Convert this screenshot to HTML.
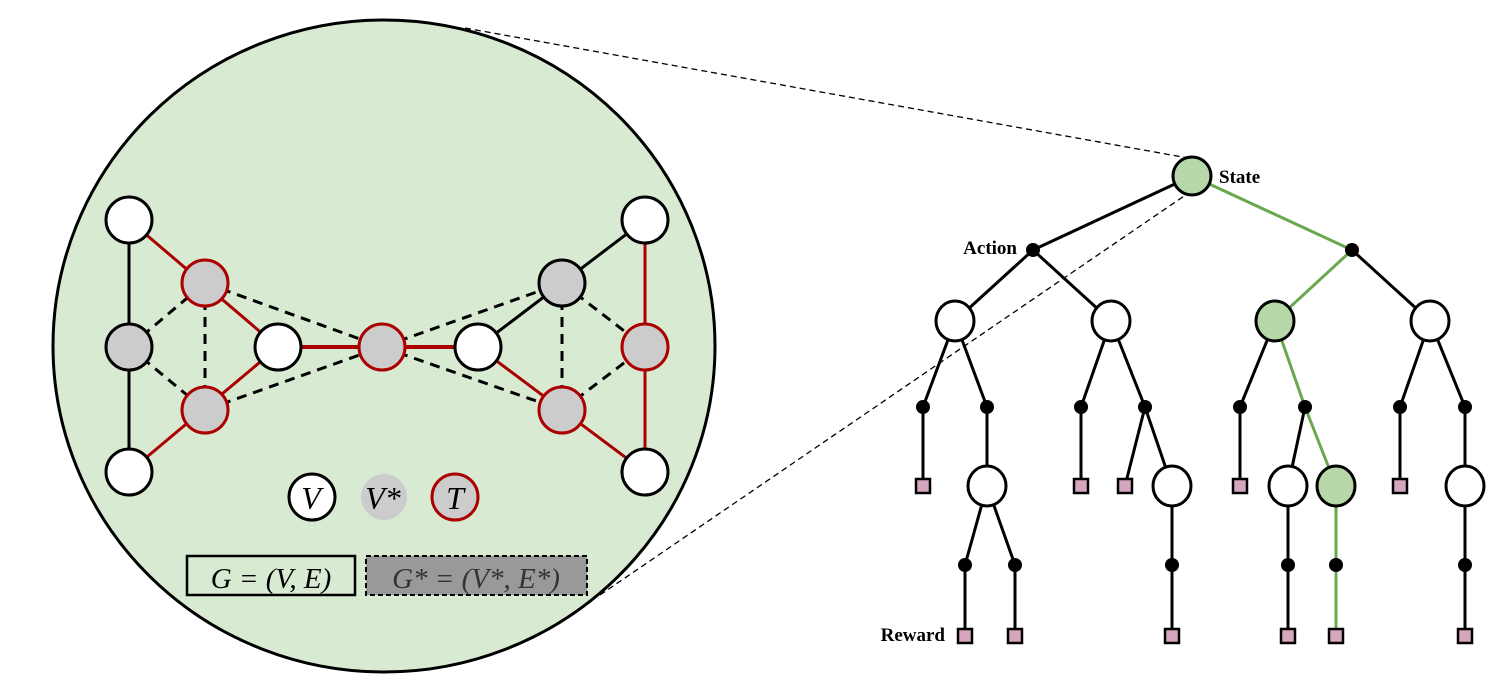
<!DOCTYPE html>
<html><head><style>body{margin:0;background:#fff}svg{display:block}</style></head><body>
<svg width="1505" height="676" viewBox="0 0 1505 676" xmlns="http://www.w3.org/2000/svg" font-family="Liberation Serif, serif">
<ellipse cx="384" cy="346" rx="331" ry="326" fill="#d9ead3" stroke="#000" stroke-width="3"/>
<g stroke="#000" stroke-width="1.3" stroke-dasharray="6,4" fill="none">
<line x1="465" y1="28" x2="1188" y2="158"/>
<line x1="600" y1="595" x2="1190" y2="192"/>
</g>
<g stroke-width="3" fill="none">
<line x1="129" y1="220" x2="129" y2="472" stroke="#000"/>
<line x1="129" y1="220" x2="278" y2="347" stroke="#a00"/>
<line x1="129" y1="472" x2="278" y2="347" stroke="#a00"/>
<line x1="278" y1="347" x2="478" y2="347" stroke="#a00" stroke-width="4"/>
<line x1="478" y1="347" x2="645" y2="220" stroke="#000"/>
<line x1="478" y1="347" x2="645" y2="472" stroke="#a00"/>
<line x1="645" y1="220" x2="645" y2="472" stroke="#a00"/>
</g>
<g stroke="#000" stroke-width="3" stroke-dasharray="10,7" fill="none">
<line x1="129" y1="347" x2="205" y2="283"/><line x1="129" y1="347" x2="205" y2="410"/>
<line x1="205" y1="283" x2="205" y2="410"/>
<line x1="205" y1="283" x2="382" y2="347"/><line x1="205" y1="410" x2="382" y2="347"/>
<line x1="382" y1="347" x2="562" y2="283"/><line x1="382" y1="347" x2="562" y2="410"/>
<line x1="562" y1="283" x2="562" y2="410"/>
<line x1="562" y1="283" x2="645" y2="347"/><line x1="562" y1="410" x2="645" y2="347"/>
</g>
<g stroke-width="3">
<ellipse cx="129" cy="220" rx="23" ry="23" fill="#fff" stroke="#000"/>
<ellipse cx="129" cy="472" rx="23" ry="23" fill="#fff" stroke="#000"/>
<ellipse cx="129" cy="347" rx="23" ry="23" fill="#ccc" stroke="#000"/>
<ellipse cx="205" cy="283" rx="23" ry="23" fill="#ccc" stroke="#a00"/>
<ellipse cx="205" cy="410" rx="23" ry="23" fill="#ccc" stroke="#a00"/>
<ellipse cx="278" cy="347" rx="23" ry="23" fill="#fff" stroke="#000"/>
<ellipse cx="382" cy="347" rx="23" ry="23" fill="#ccc" stroke="#a00"/>
<ellipse cx="478" cy="347" rx="23" ry="23" fill="#fff" stroke="#000"/>
<ellipse cx="562" cy="283" rx="23" ry="23" fill="#ccc" stroke="#000"/>
<ellipse cx="562" cy="410" rx="23" ry="23" fill="#ccc" stroke="#a00"/>
<ellipse cx="645" cy="220" rx="23" ry="23" fill="#fff" stroke="#000"/>
<ellipse cx="645" cy="347" rx="23" ry="23" fill="#ccc" stroke="#a00"/>
<ellipse cx="645" cy="472" rx="23" ry="23" fill="#fff" stroke="#000"/>
<ellipse cx="312" cy="497" rx="23" ry="23" fill="#fff" stroke="#000"/>
<ellipse cx="384" cy="497" rx="23" ry="23" fill="#ccc" stroke="none"/>
<ellipse cx="455" cy="497" rx="23" ry="23" fill="#ccc" stroke="#a00"/>
</g>
<g font-style="italic" font-size="32" text-anchor="middle">
<text x="311" y="509">V</text><text x="383" y="509">V*</text><text x="455" y="509">T</text>
</g>
<rect x="187" y="556" width="168" height="39" fill="none" stroke="#000" stroke-width="2.5"/>
<rect x="366" y="556" width="221" height="39" fill="#999" stroke="#000" stroke-width="2" stroke-dasharray="5,3"/>
<text x="271" y="588" font-size="29" text-anchor="middle" font-style="italic">G = (V, E)</text>
<text x="476" y="588" font-size="29" text-anchor="middle" font-style="italic" fill="#333">G* = (V*, E*)</text>
<g stroke="#000" stroke-width="3" fill="none">
<line x1="1192" y1="176" x2="1033" y2="250"/>
<line x1="1033" y1="250" x2="955" y2="321"/><line x1="1033" y1="250" x2="1111" y2="321"/>
<line x1="1352" y1="250" x2="1430" y2="321"/>
<line x1="955" y1="321" x2="923" y2="407"/><line x1="955" y1="321" x2="987" y2="407"/>
<line x1="1111" y1="321" x2="1081" y2="407"/><line x1="1111" y1="321" x2="1145" y2="407"/>
<line x1="1275" y1="321" x2="1240" y2="407"/>
<line x1="1430" y1="321" x2="1400" y2="407"/><line x1="1430" y1="321" x2="1465" y2="407"/>
<line x1="923" y1="407" x2="923" y2="486"/><line x1="987" y1="407" x2="987" y2="486"/>
<line x1="1081" y1="407" x2="1081" y2="486"/><line x1="1145" y1="407" x2="1125" y2="486"/><line x1="1145" y1="407" x2="1172" y2="486"/>
<line x1="1240" y1="407" x2="1240" y2="486"/><line x1="1305" y1="407" x2="1288" y2="486"/>
<line x1="1400" y1="407" x2="1400" y2="486"/><line x1="1465" y1="407" x2="1465" y2="486"/>
<line x1="987" y1="486" x2="965" y2="565"/><line x1="987" y1="486" x2="1015" y2="565"/>
<line x1="965" y1="565" x2="965" y2="636"/><line x1="1015" y1="565" x2="1015" y2="636"/>
<line x1="1172" y1="486" x2="1172" y2="636"/><line x1="1288" y1="486" x2="1288" y2="636"/>
<line x1="1465" y1="486" x2="1465" y2="636"/>
</g>
<g stroke="#6aa84f" stroke-width="3" fill="none">
<polyline points="1192,176 1352,250 1275,321 1305,407 1336,486 1336,636"/>
</g>
<g fill="#000">
<circle cx="1033" cy="250" r="7"/><circle cx="1352" cy="250" r="7"/>
<circle cx="923" cy="407" r="7"/><circle cx="987" cy="407" r="7"/><circle cx="1081" cy="407" r="7"/><circle cx="1145" cy="407" r="7"/>
<circle cx="1240" cy="407" r="7"/><circle cx="1305" cy="407" r="7"/><circle cx="1400" cy="407" r="7"/><circle cx="1465" cy="407" r="7"/>
<circle cx="965" cy="565" r="7"/><circle cx="1015" cy="565" r="7"/><circle cx="1172" cy="565" r="7"/>
<circle cx="1288" cy="565" r="7"/><circle cx="1336" cy="565" r="7"/><circle cx="1465" cy="565" r="7"/>
</g>
<g stroke="#000" stroke-width="3" fill="#fff">
<ellipse cx="1192" cy="176" rx="19" ry="19" fill="#b6d7a8"/>
<ellipse cx="955" cy="321" rx="19" ry="20"/><ellipse cx="1111" cy="321" rx="19" ry="20"/>
<ellipse cx="1275" cy="321" rx="19" ry="20" fill="#b6d7a8"/><ellipse cx="1430" cy="321" rx="19" ry="20"/>
<ellipse cx="987" cy="486" rx="19" ry="20"/><ellipse cx="1172" cy="486" rx="19" ry="20"/>
<ellipse cx="1288" cy="486" rx="19" ry="20"/><ellipse cx="1336" cy="486" rx="19" ry="20" fill="#b6d7a8"/>
<ellipse cx="1465" cy="486" rx="19" ry="20"/>
</g>
<g stroke="#000" stroke-width="2.5" fill="#d5a6bd">
<rect x="916" y="479" width="14" height="14"/><rect x="1074" y="479" width="14" height="14"/><rect x="1118" y="479" width="14" height="14"/>
<rect x="1233" y="479" width="14" height="14"/><rect x="1393" y="479" width="14" height="14"/>
<rect x="958" y="629" width="14" height="14"/><rect x="1008" y="629" width="14" height="14"/><rect x="1165" y="629" width="14" height="14"/>
<rect x="1281" y="629" width="14" height="14"/><rect x="1329" y="629" width="14" height="14"/><rect x="1458" y="629" width="14" height="14"/>
</g>
<g font-weight="bold" font-size="19">
<text x="1219" y="183">State</text>
<text x="1017" y="254" text-anchor="end">Action</text>
<text x="945" y="641" text-anchor="end">Reward</text>
</g>
</svg>
</body></html>
